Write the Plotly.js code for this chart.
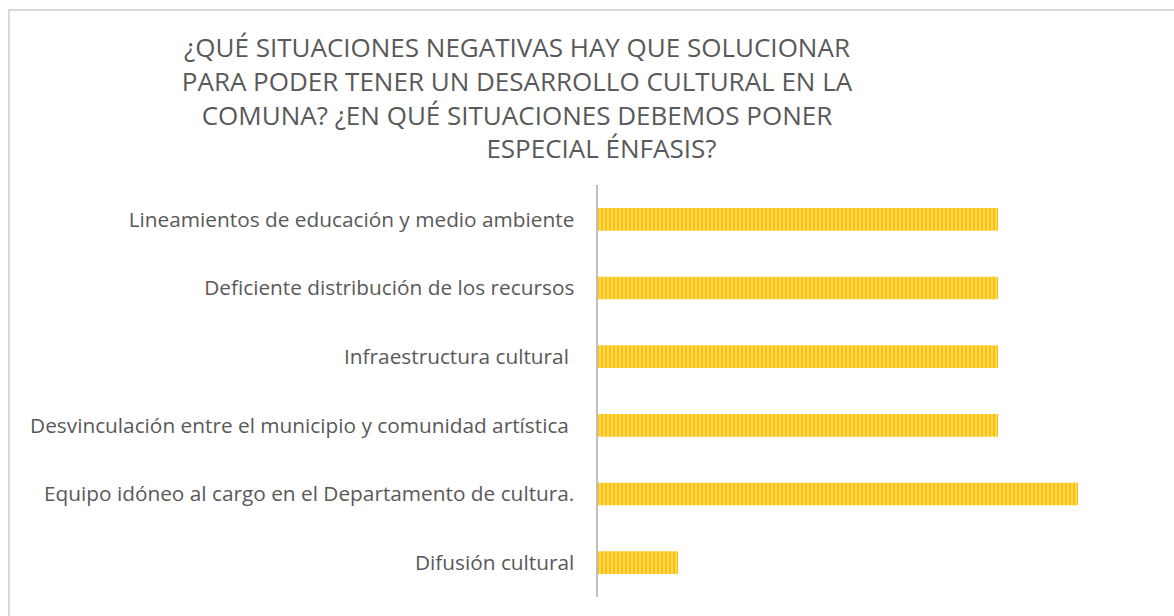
<!DOCTYPE html>
<html>
<head>
<meta charset="utf-8">
<script src="https://cdn.plot.ly/plotly-3.0.1.min.js"></script>
<style>
  html, body { margin: 0; padding: 0; background: #ffffff; }
  #frame { position: absolute; left: 8px; top: 9px; width: 1166px; height: 607px;
           border-left: 2px solid #d9d9d9; border-top: 2px solid #d9d9d9; box-sizing: border-box; }
  #chart { position: absolute; left: 0; top: 0; width: 1174px; height: 616px; }
</style>
</head>
<body>
<div id="frame"></div>
<div id="chart"></div>
<script>
const categories = [
  "Lineamientos de educación y medio ambiente",
  "Deficiente distribución de los recursos",
  "Infraestructura cultural\u00A0",
  "Desvinculación entre el municipio y comunidad artística\u00A0",
  "Equipo idóneo al cargo en el Departamento de cultura.",
  "Difusión cultural"
];
const values = [5, 5, 5, 5, 6, 1];
const titleLines = [
  "¿QUÉ SITUACIONES NEGATIVAS HAY QUE SOLUCIONAR",
  "PARA PODER TENER UN DESARROLLO CULTURAL EN LA",
  "COMUNA? ¿EN QUÉ SITUACIONES DEBEMOS PONER",
  "ESPECIAL ÉNFASIS?"
];

const L = 598, R = 1158, T = 185, B = 597;
const pad = "\u00A0".repeat(25);

const trace = {
  type: "bar",
  orientation: "h",
  x: values,
  y: categories,
  width: 0.33,
  marker: {
    color: "#FFC000",
    line: { width: 0 },
    pattern: { shape: "|", fgcolor: "#FFE38F", bgcolor: "#FFC000", size: 4, solidity: 0.35 }
  },
  hoverinfo: "none"
};

const layout = {
  width: 1174,
  height: 616,
  paper_bgcolor: "rgba(0,0,0,0)",
  plot_bgcolor: "rgba(0,0,0,0)",
  margin: { l: L, r: 1174 - R, t: T, b: 616 - B },
  showlegend: false,
  font: { family: "Open Sans, sans-serif", color: "#595959" },
  title: {
    text: titleLines[0] + "<br>" + titleLines[1] + "<br>" + titleLines[2] + "<br>" + pad + titleLines[3],
    font: { family: "Open Sans, sans-serif", size: 26, color: "#595959" },
    xref: "container", yref: "container",
    x: 517 / 1174, xanchor: "center",
    y: 1 - 57 / 616, yanchor: "top"
  },
  xaxis: {
    range: [0, 7],
    showticklabels: false, showgrid: false, zeroline: false, showline: false, ticks: ""
  },
  yaxis: {
    autorange: "reversed",
    showline: true, linecolor: "#bfbfbf", linewidth: 2.5,
    showgrid: false, zeroline: false, ticks: "",
    ticklabelstandoff: 17,
    tickfont: { family: "Open Sans, sans-serif", size: 20.8, color: "#595959" }
  }
};

Plotly.newPlot("chart", [trace], layout, { displayModeBar: false, staticPlot: true });
</script>
</body>
</html>
